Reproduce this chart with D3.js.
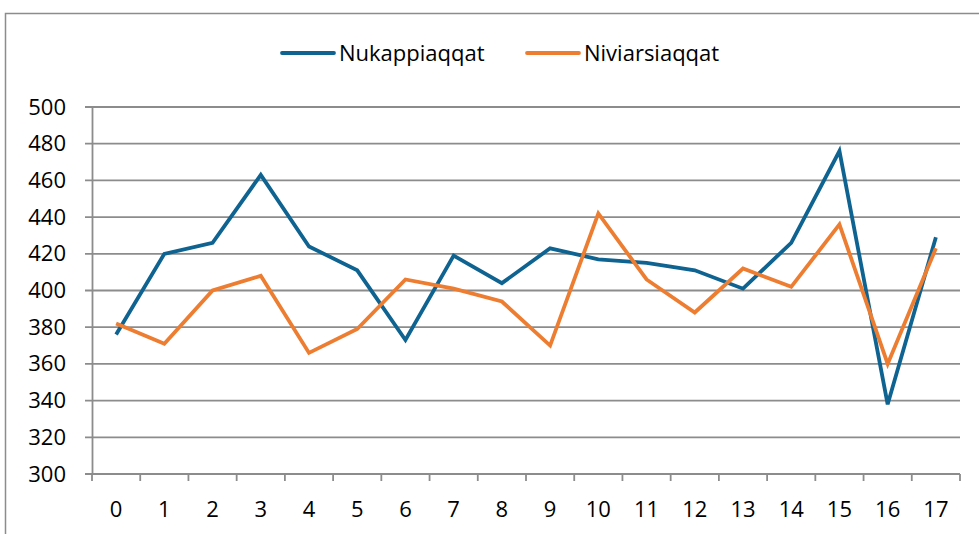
<!DOCTYPE html>
<html><head><meta charset="utf-8">
<script src="https://cdn.jsdelivr.net/npm/d3@7"></script>
<style>body{margin:0;background:#fff}svg{display:block}</style>
</head><body>
<script>
const categories = ["0","1","2","3","4","5","6","7","8","9","10","11","12","13","14","15","16","17"];
const nukappiaqqat = [376,420,426,463,424,411,373,419,404,423,417,415,411,401,426,476,338,429];
const niviarsiaqqat = [382,371,400,408,366,379,406,401,394,370,442,406,388,412,402,436,360,423];
const yTicks = [300,320,340,360,380,400,420,440,460,480,500];
const seriesNames = ["Nukappiaqqat","Niviarsiaqqat"];
const colors = ["#0E6391","#ED7D31"];

(function(){
const W=979,H=534;
const svg=d3.select("body").append("svg").attr("width",W).attr("height",H);
const font="'Open Sans', sans-serif";
const fs=22;

// frame
svg.append("rect").attr("x",5.5).attr("y",13.5).attr("width",W+20).attr("height",H+20)
  .attr("fill","none").attr("stroke","#8c8c8c").attr("stroke-width",1.5);

const pL=92,pR=960,pT=107,pB=474;
const x=d3.scaleBand().domain(categories).range([pL,pR]);
const y=d3.scaleLinear().domain([300,500]).range([pB,pT]);

// gridlines
svg.append("g").selectAll("line").data(yTicks).join("line")
  .attr("x1",pL-7).attr("x2",pR).attr("y1",d=>y(d)).attr("y2",d=>y(d))
  .attr("stroke","#8c8c8c").attr("stroke-width",1.8);

// y axis
const ya=svg.append("g").attr("transform",`translate(${pL},0)`)
  .call(d3.axisLeft(y).tickValues(yTicks).tickSize(0).tickPadding(26));
ya.select(".domain").attr("stroke","#8c8c8c").attr("stroke-width",1.8);
ya.selectAll("text").attr("font-family",font).attr("font-size",fs).attr("fill","#000");

// x axis
const xa=svg.append("g").attr("transform",`translate(0,${pB})`)
  .call(d3.axisBottom(x).tickSize(0).tickPadding(27));
xa.select(".domain").remove();
xa.selectAll("text").attr("font-family",font).attr("font-size",fs).attr("fill","#000");
const bounds=categories.map(c=>x(c)).concat([x(categories[categories.length-1])+x.bandwidth()]);
svg.append("g").selectAll("line").data(bounds).join("line")
  .attr("x1",d=>d).attr("x2",d=>d).attr("y1",pB).attr("y2",pB+7)
  .attr("stroke","#8c8c8c").attr("stroke-width",1.8);
svg.append("line").attr("x1",pL).attr("x2",pR).attr("y1",pB).attr("y2",pB)
  .attr("stroke","#8c8c8c").attr("stroke-width",1.8);

// lines
const line=d3.line().x((d,i)=>x(categories[i])+x.bandwidth()/2).y(d=>y(d));
[nukappiaqqat,niviarsiaqqat].forEach((s,k)=>{
  svg.append("path").datum(s).attr("d",line).attr("fill","none")
    .attr("stroke",colors[k]).attr("stroke-width",3.8).attr("stroke-linejoin","miter");
});

// legend
const legX=[282,527];
seriesNames.forEach((n,k)=>{
  svg.append("line").attr("x1",legX[k]).attr("x2",legX[k]+52).attr("y1",53).attr("y2",53)
    .attr("stroke",colors[k]).attr("stroke-width",3.8).attr("stroke-linecap","round");
  svg.append("text").attr("x",legX[k]+57).attr("y",61).text(n)
    .attr("font-family",font).attr("font-size",fs).attr("fill","#000");
});
})();
</script>
</body></html>
